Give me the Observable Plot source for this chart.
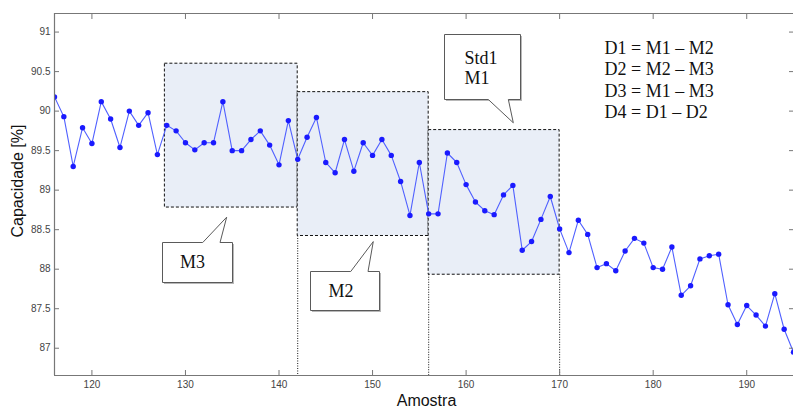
<!DOCTYPE html>
<html>
<head>
<meta charset="utf-8">
<script src="https://cdn.jsdelivr.net/npm/d3@7"></script>
<script src="https://cdn.jsdelivr.net/npm/@observablehq/plot@0.6"></script>
<style>
  html, body { margin: 0; padding: 0; background: #fff; overflow: hidden; }
  #chart svg { display: block; }
</style>
</head>
<body>
<div id="chart"></div>
<script>
// Amostras (eixo x) e capacidade medida em cada uma (eixo y, %)
const amostra = [
  116, 117, 118, 119, 120, 121, 122, 123, 124, 125,
  126, 127, 128, 129, 130, 131, 132, 133, 134, 135,
  136, 137, 138, 139, 140, 141, 142, 143, 144, 145,
  146, 147, 148, 149, 150, 151, 152, 153, 154, 155,
  156, 157, 158, 159, 160, 161, 162, 163, 164, 165,
  166, 167, 168, 169, 170, 171, 172, 173, 174, 175,
  176, 177, 178, 179, 180, 181, 182, 183, 184, 185,
  186, 187, 188, 189, 190, 191, 192, 193, 194, 195
];
const capacidade = [
  90.18, 89.93, 89.30, 89.79, 89.59, 90.12, 89.90, 89.54, 90.00, 89.82,
  89.98, 89.45, 89.82, 89.75, 89.60, 89.51, 89.60, 89.60, 90.12, 89.50,
  89.50, 89.64, 89.75, 89.57, 89.32, 89.88, 89.39, 89.67, 89.92, 89.35,
  89.22, 89.64, 89.24, 89.60, 89.44, 89.64, 89.44, 89.11, 88.68, 89.35,
  88.70, 88.70, 89.47, 89.35, 89.07, 88.85, 88.74, 88.69, 88.94, 89.06,
  88.24, 88.35, 88.63, 88.92, 88.51, 88.21, 88.62, 88.44, 88.02, 88.07,
  87.98, 88.23, 88.39, 88.33, 88.02, 88.00, 88.28, 87.67, 87.79, 88.13,
  88.17, 88.19, 87.55, 87.30, 87.54, 87.42, 87.28, 87.69, 87.24, 86.95
];

// Janelas de amostras M3, M2 e M1 (extensão em x e faixa de capacidade)
const janelaNome   = ["M3", "M2", "M1"];
const janelaInicio = [127.8, 142, 156];
const janelaFim    = [142, 156, 170];
const janelaMin    = [88.78, 88.42, 87.93];
const janelaMax    = [90.60, 90.24, 89.76];

// Marcas dos eixos
const xTicks = [120, 130, 140, 150, 160, 170, 180, 190];
const yTicks = [87, 87.5, 88, 88.5, 89, 89.5, 90, 90.5, 91];
const xDomain = [116, 195];
const yDomain = [86.655, 91.235];
const xTitulo = "Amostra";
const yTitulo = "Capacidade [%]";

// Definições das diferenças entre janelas
const formulas = ["D1 = M1 \u2013 M2", "D2 = M2 \u2013 M3", "D3 = M1 \u2013 M3", "D4 = D1 \u2013 D2"];

// Balões de legenda (coordenadas em unidades dos dados)
const baloes = [
  {texto: "M3", x1: 127.58, x2: 135.0, topo: 88.336, base: 87.831, lado: "top",
   b1: 131.9, b2: 133.75, px: 134.46, py: 88.652, tx: 130.75, ty: 88.087},
  {texto: "M2", x1: 143.37, x2: 150.78, topo: 87.977, base: 87.472, lado: "top",
   b1: 147.72, b2: 149.57, px: 150.13, py: 88.343, tx: 146.63, ty: 87.721},
  {texto: "Std1\nM1", x1: 157.69, x2: 165.82, topo: 90.966, base: 90.145, lado: "bottom",
   b1: 162.43, b2: 164.57, px: 165.1, py: 89.846, tx: 159.83, ty: 90.774}
];

const pontos = amostra.map((a, i) => ({amostra: a, capacidade: capacidade[i]}));
const janelas = janelaNome.map((n, i) => ({
  nome: n, x1: janelaInicio[i], x2: janelaFim[i], y1: janelaMin[i], y2: janelaMax[i]
}));
// linhas pontilhadas que descem de cada janela até o eixo x
const divisores = [
  {x: janelaFim[0], y: janelaMin[1]},
  {x: janelaFim[1], y: janelaMin[2]},
  {x: janelaFim[2], y: janelaMin[2]}
];

const serif = "'Liberation Serif', 'Times New Roman', serif";
const sans = "'Liberation Sans', Arial, sans-serif";
const axisColor = "#777";

// Desenha os balões com o "bico" apontando para a janela correspondente
function baloesMark(index, scales) {
  const {x, y} = scales;
  const g = d3.create("svg:g");
  for (const b of baloes) {
    const X1 = Math.round(x(b.x1)) + 0.5, X2 = Math.round(x(b.x2)) + 0.5;
    const Y1 = Math.round(y(b.topo)) + 0.5, Y2 = Math.round(y(b.base)) + 0.5;
    const B1 = x(b.b1), B2 = x(b.b2), TX = x(b.px), TY = y(b.py);
    const pts = b.lado === "top"
      ? [[X1, Y1], [B1, Y1], [TX, TY], [B2, Y1], [X2, Y1], [X2, Y2], [X1, Y2]]
      : [[X1, Y1], [X2, Y1], [X2, Y2], [B2, Y2], [TX, TY], [B1, Y2], [X1, Y2]];
    g.append("rect")
      .attr("x", X1 + 1.5).attr("y", Y1 + 1.5)
      .attr("width", X2 - X1).attr("height", Y2 - Y1)
      .attr("fill", "#b8b8b8");
    g.append("path")
      .attr("d", "M" + pts.map(p => p.join(",")).join("L") + "Z")
      .attr("fill", "#fff")
      .attr("stroke", "#5a5a5a")
      .attr("stroke-width", 1);
  }
  return g.node();
}

// Títulos dos eixos, posicionados em relação à área de plotagem
function titulosMark(index, scales, values, dims) {
  const {marginLeft, marginTop, marginBottom, marginRight, width, height} = dims;
  const g = d3.create("svg:g")
    .attr("font-family", sans)
    .attr("font-size", 16)
    .attr("fill", "#111")
    .attr("text-anchor", "middle");
  const cx = (marginLeft + width - marginRight) / 2;
  const cy = (marginTop + height - marginBottom) / 2;
  g.append("text")
    .attr("transform", `translate(${marginLeft - 37},${cy - 13}) rotate(-90)`)
    .attr("dy", "0.35em")
    .text(yTitulo);
  g.append("text")
    .attr("x", cx + 3)
    .attr("y", height - marginBottom + 25)
    .attr("dy", "0.35em")
    .text(xTitulo);
  return g.node();
}

const chart = Plot.plot({
  width: 793,
  height: 408,
  marginLeft: 54,
  marginRight: 0,
  marginTop: 13,
  marginBottom: 33,
  style: {background: "#fff", fontFamily: sans},
  x: {domain: xDomain, label: null},
  y: {domain: yDomain, label: null},
  marks: [
    // janelas sombreadas
    Plot.rect(janelas, {
      x1: "x1", x2: "x2", y1: "y1", y2: "y2",
      fill: "#e9eef7", stroke: "#111", strokeWidth: 1, strokeDasharray: "3,2"
    }),
    Plot.ruleX(divisores, {
      x: "x", y1: "y", y2: yDomain[0],
      stroke: "#111", strokeWidth: 1, strokeDasharray: "1,1.5"
    }),
    // série de capacidade
    Plot.line(pontos, {
      x: "amostra", y: "capacidade",
      stroke: "#5060ff", strokeWidth: 1.1, clip: true
    }),
    Plot.dot(pontos, {
      x: "amostra", y: "capacidade",
      fill: "#1a1aff", r: 2.7, clip: true
    }),
    // moldura (esquerda, topo, base)
    Plot.ruleX([xDomain[0]], {stroke: axisColor, strokeWidth: 1.2}),
    Plot.ruleY([yDomain[0]], {stroke: axisColor, strokeWidth: 1.2}),
    Plot.ruleY([yDomain[1]], {stroke: axisColor, strokeWidth: 1}),
    // marcas dos eixos voltadas para dentro
    Plot.axisX({anchor: "bottom", ticks: xTicks, tickSize: -5, fill: "none", stroke: axisColor, label: null}),
    Plot.axisX({anchor: "top", ticks: xTicks, tickSize: -5, fill: "none", stroke: axisColor, label: null}),
    Plot.axisY({anchor: "left", ticks: yTicks, tickSize: -5, fill: "none", stroke: axisColor, label: null}),
    Plot.axisY({anchor: "right", ticks: yTicks, tickSize: -5, fill: "none", stroke: axisColor, label: null}),
    // rótulos das marcas
    Plot.axisX({anchor: "bottom", ticks: xTicks, tickSize: 0, tickPadding: 5, fill: "#444",
      fontSize: 10, label: null, tickFormat: d => String(d)}),
    Plot.axisY({anchor: "left", ticks: yTicks, tickSize: 0, tickPadding: 4, fill: "#444",
      fontSize: 10, label: null, tickFormat: d => String(d)}),
    // títulos dos eixos
    titulosMark,
    // balões e textos
    baloesMark,
    Plot.text(baloes.filter(b => b.lado === "top"), {
      x: "tx", y: "ty", text: "texto",
      textAnchor: "middle", lineAnchor: "middle",
      fontSize: 18, fontFamily: serif, fill: "#111"
    }),
    Plot.text(baloes.filter(b => b.lado === "bottom"), {
      x: "tx", y: "ty", text: "texto",
      textAnchor: "start", lineAnchor: "top",
      lineHeight: 1.11, fontSize: 18, fontFamily: serif, fill: "#111"
    }),
    Plot.text([formulas.join("\n")], {
      x: 174.8, y: 90.922, textAnchor: "start", lineAnchor: "top",
      lineHeight: 1.2, fontSize: 18, fontFamily: serif, fill: "#111"
    })
  ]
});

document.getElementById("chart").appendChild(chart);
</script>
</body>
</html>
